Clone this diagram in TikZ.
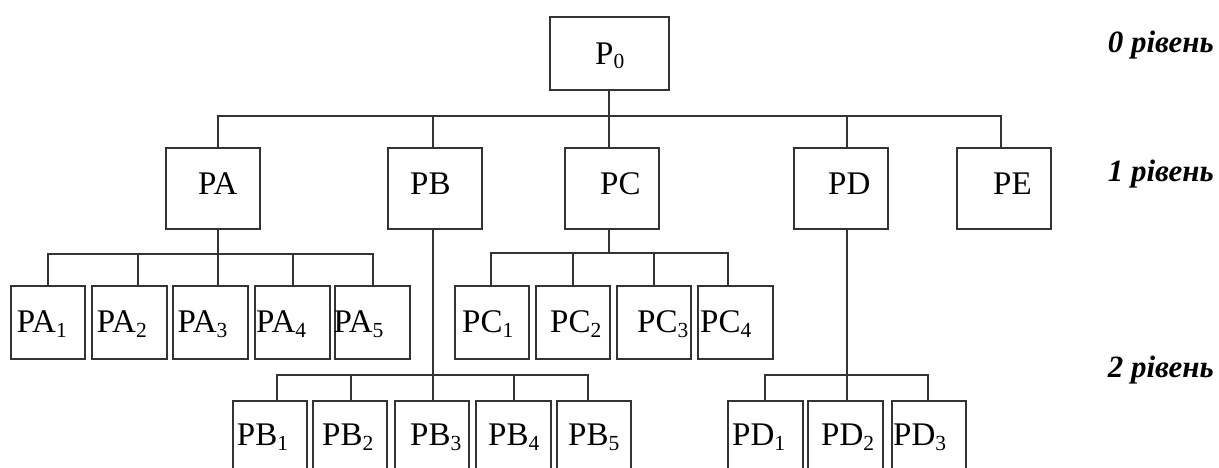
\documentclass[tikz,border=0pt]{standalone}
\usepackage{fontspec}
\setmainfont{Liberation Serif}
\usepackage{graphicx}
% subscript digit, as set by a word processor
\newcommand\sbs[1]{\raisebox{-4.3pt}{\fontsize{21.5pt}{21.5pt}\selectfont #1}}
\begin{document}
\begin{tikzpicture}[x=1pt,y=-1pt,
  box/.style={draw=black!80, line width=1.7pt, fill=white, inner sep=0pt, outer sep=0pt},
  b0/.style={box, minimum width=119pt, minimum height=73pt},
  b1/.style={box, minimum width=94pt, minimum height=81pt},
  b2/.style={box, minimum width=74.5pt, minimum height=73pt},
  txt/.style={inner sep=0pt, anchor=base west, font=\fontsize{33pt}{33pt}\selectfont},
  lvl/.style={inner sep=0pt, anchor=base east, font=\fontsize{31pt}{31pt}\selectfont\bfseries\itshape},
  link/.style={draw=black!80, line width=1.7pt}]
\useasboundingbox (0,0) rectangle (1219,468);
\clip (0,0) rectangle (1219,468);

% level 0
\node[b0] (p0) at (609.5,53.5) {};

% level 1
\node[b1] (pa) at (213,188.5) {};
\node[b1] (pb) at (435,188.5) {};
\node[b1] (pc) at (612,188.5) {};
\node[b1] (pd) at (841,188.5) {};
\node[b1] (pe) at (1004,188.5) {};

% level 2, upper row
\node[b2] (pa1) at (48,322.5) {};
\node[b2] (pa2) at (129.5,322.5) {};
\node[b2] (pa3) at (210.5,322.5) {};
\node[b2] (pa4) at (292.5,322.5) {};
\node[b2] (pa5) at (372.5,322.5) {};
\node[b2] (pc1) at (492,322.5) {};
\node[b2] (pc2) at (573,322.5) {};
\node[b2] (pc3) at (654,322.5) {};
\node[b2] (pc4) at (735.5,322.5) {};

% level 2, lower row
\node[b2] (pb1) at (270,437.5) {};
\node[b2] (pb2) at (350,437.5) {};
\node[b2] (pb3) at (432,437.5) {};
\node[b2] (pb4) at (513.5,437.5) {};
\node[b2] (pb5) at (594,437.5) {};
\node[b2] (pd1) at (765.5,437.5) {};
\node[b2] (pd2) at (845.5,437.5) {};
\node[b2] (pd3) at (929,437.5) {};

% bus junctions
\coordinate (bus0) at (609,116);
\coordinate (busA) at (218,254);
\coordinate (busC) at (609,253);
\coordinate (busB) at (433,375);
\coordinate (busD) at (847,375);

% P0 -> level 1
\draw[link] ([xshift=-0.5]p0.south) -- (bus0);
\draw[link] ([xshift=5]pa.north) |- ([xshift=-3]pe.north |- bus0) -- ([xshift=-3]pe.north);
\draw[link] ([xshift=-2]pb.north) -- ([xshift=-2]pb.north |- bus0);
\draw[link] ([xshift=-3]pc.north) -- ([xshift=-3]pc.north |- bus0);
\draw[link] ([xshift=6]pd.north) -- ([xshift=6]pd.north |- bus0);

% PA -> PA1..PA5
\draw[link] ([xshift=5]pa.south) -- ([xshift=7.5]pa3.north);
\draw[link] (pa1.north) |- ([xshift=0.5]pa5.north |- busA) -- ([xshift=0.5]pa5.north);
\draw[link] ([xshift=8.5]pa2.north) -- ([xshift=8.5]pa2.north |- busA);
\draw[link] ([xshift=0.5]pa4.north) -- ([xshift=0.5]pa4.north |- busA);

% PC -> PC1..PC4
\draw[link] ([xshift=-3]pc.south) -- (busC);
\draw[link] ([xshift=-1]pc1.north) |- ([xshift=-7.5]pc4.north |- busC) -- ([xshift=-7.5]pc4.north);
\draw[link] (pc2.north) -- (pc2.north |- busC);
\draw[link] (pc3.north) -- (pc3.north |- busC);

% PB -> PB1..PB5
\draw[link] ([xshift=-2]pb.south) -- ([xshift=1]pb3.north);
\draw[link] ([xshift=7]pb1.north) |- ([xshift=-6]pb5.north |- busB) -- ([xshift=-6]pb5.north);
\draw[link] ([xshift=1]pb2.north) -- ([xshift=1]pb2.north |- busB);
\draw[link] ([xshift=0.5]pb4.north) -- ([xshift=0.5]pb4.north |- busB);

% PD -> PD1..PD3
\draw[link] ([xshift=6]pd.south) -- ([xshift=1.5]pd2.north);
\draw[link] ([xshift=-0.5]pd1.north) |- ([xshift=-1]pd3.north |- busD) -- ([xshift=-1]pd3.north);

% box captions
\node[txt] (t-p0) at (595,64.5) {P\sbs{0}};
\node[txt] (t-pa) at (198,194) {PA};
\node[txt] (t-pb) at (410,194) {PB};
\node[txt] (t-pc) at (600,194) {PC};
\node[txt] (t-pd) at (828,194) {PD};
\node[txt] (t-pe) at (993,194) {PE};
\node[txt] (t-pa1) at (16.7,332.7) {PA\sbs{1}};
\node[txt] (t-pa2) at (96.7,332.7) {PA\sbs{2}};
\node[txt] (t-pa3) at (177.3,332.7) {PA\sbs{3}};
\node[txt] (t-pa4) at (256,332.7) {PA\sbs{4}};
\node[txt] (t-pa5) at (333.3,332.7) {PA\sbs{5}};
\node[txt] (t-pc1) at (462,332.7) {PC\sbs{1}};
\node[txt] (t-pc2) at (550,332.7) {PC\sbs{2}};
\node[txt] (t-pc3) at (637,332.7) {PC\sbs{3}};
\node[txt] (t-pc4) at (700,332.7) {PC\sbs{4}};
\node[txt] (t-pb1) at (236.7,445.7) {PB\sbs{1}};
\node[txt] (t-pb2) at (322,445.7) {PB\sbs{2}};
\node[txt] (t-pb3) at (410,445.7) {PB\sbs{3}};
\node[txt] (t-pb4) at (488,445.7) {PB\sbs{4}};
\node[txt] (t-pb5) at (568,445.7) {PB\sbs{5}};
\node[txt] (t-pd1) at (732,445.7) {PD\sbs{1}};
\node[txt] (t-pd2) at (821,445.7) {PD\sbs{2}};
\node[txt] (t-pd3) at (893,445.7) {PD\sbs{3}};

% level captions
\node[lvl] (l0) at (1214,53) {0 рівень};
\node[lvl] (l1) at (1214,182) {1 рівень};
\node[lvl] (l2) at (1214,377) {2 рівень};
\end{tikzpicture}
\end{document}
